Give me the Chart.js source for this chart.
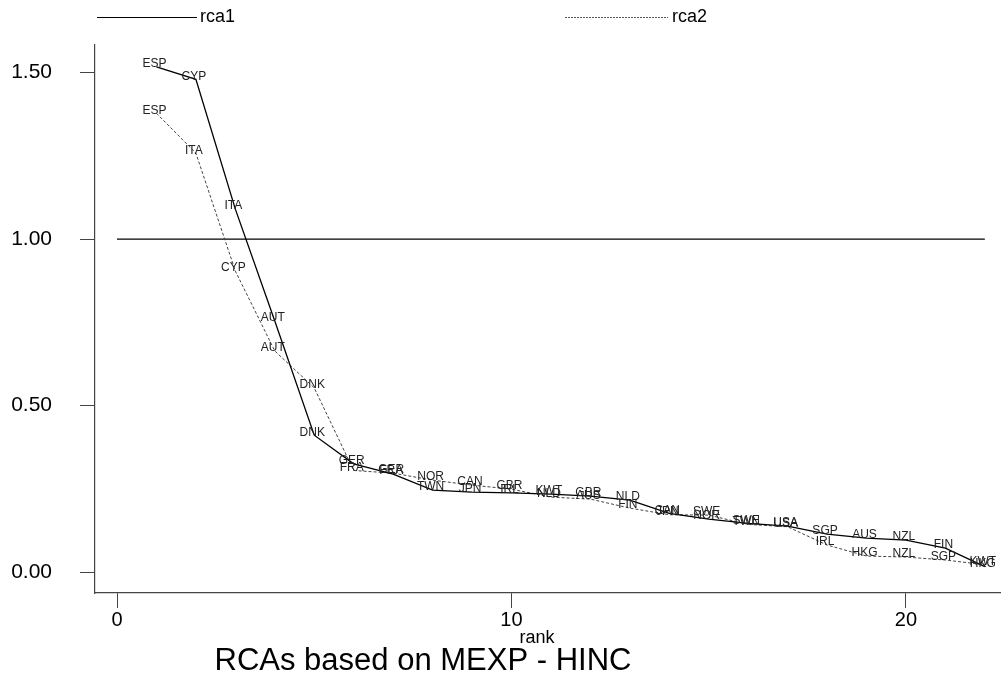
<!DOCTYPE html>
<html lang="en">
<head>
  <meta charset="UTF-8" />
  <title>RCAs based on MEXP - HINC</title>
  <script src="https://cdn.jsdelivr.net/npm/chart.js"></script>
  <style>
    body {
      margin: 0;
      padding: 0;
      background-color: #fff;
    }
  </style>
</head>
<body>
  <canvas id="rcaChart" width="1001" height="685"></canvas>

  <script>
    // ranks 1..22
    const ranks = [1, 2, 3, 4, 5, 6, 7, 8, 9, 10, 11, 12, 13, 14, 15, 16, 17, 18, 19, 20, 21, 22];

    const rca1Labels = ['ESP', 'CYP', 'ITA', 'AUT', 'DNK', 'GER', 'FRA', 'TWN', 'JPN', 'IRL', 'KWT',
      'GBR', 'NLD', 'CAN', 'NOR', 'SWE', 'USA', 'SGP', 'AUS', 'NZL', 'FIN', 'HKG'];
    const rca1Values = [1.517, 1.48, 1.09, 0.754, 0.411, 0.325, 0.294, 0.246, 0.24, 0.238, 0.234,
      0.228, 0.216, 0.176, 0.159, 0.146, 0.138, 0.114, 0.102, 0.096, 0.072, 0.016];

    const rca2Labels = ['ESP', 'ITA', 'CYP', 'AUT', 'DNK', 'FRA', 'GER', 'NOR', 'CAN', 'GBR', 'NLD',
      'AUS', 'FIN', 'JPN', 'SWE', 'TWN', 'USA', 'IRL', 'HKG', 'NZL', 'SGP', 'KWT'];
    const rca2Values = [1.378, 1.258, 0.904, 0.664, 0.553, 0.305, 0.297, 0.276, 0.261, 0.249, 0.225,
      0.219, 0.192, 0.172, 0.171, 0.143, 0.136, 0.081, 0.048, 0.045, 0.036, 0.022];

    const refLineX = [0, 22];
    const refLineY = [1, 1];

    const xTicks = [0, 10, 20];
    const yTicks = [0, 0.5, 1, 1.5];

    const font = "'Liberation Sans', Arial, sans-serif";

    // country code on every point
    const pointLabels = {
      id: 'pointLabels',
      afterDatasetsDraw(chart) {
        const ctx = chart.ctx;
        ctx.save();
        ctx.font = '12px ' + font;
        ctx.fillStyle = '#222';
        ctx.textAlign = 'center';
        ctx.textBaseline = 'middle';
        chart.data.datasets.forEach((ds, i) => {
          if (!ds.codes) return;
          chart.getDatasetMeta(i).data.forEach((pt, j) => {
            ctx.fillText(ds.codes[j], pt.x - 2, pt.y - 3);
          });
        });
        ctx.restore();
      }
    };

    // legend on top, axis title and caption at the bottom
    const frameText = {
      id: 'frameText',
      afterDraw(chart) {
        const ctx = chart.ctx;
        ctx.save();
        ctx.strokeStyle = '#000';
        ctx.lineWidth = 1;
        ctx.beginPath();
        ctx.moveTo(97, 17.5);
        ctx.lineTo(197, 17.5);
        ctx.stroke();
        ctx.setLineDash([2, 1]);
        ctx.strokeStyle = '#555';
        ctx.beginPath();
        ctx.moveTo(565, 17.5);
        ctx.lineTo(668, 17.5);
        ctx.stroke();
        ctx.setLineDash([]);

        ctx.fillStyle = '#000';
        ctx.textBaseline = 'middle';
        ctx.textAlign = 'left';
        ctx.font = '18px ' + font;
        ctx.fillText('rca1', 200, 17);
        ctx.fillText('rca2', 672, 17);

        ctx.textAlign = 'center';
        ctx.fillText('rank', 537, 638);
        ctx.font = '31px ' + font;
        ctx.fillText('RCAs based on MEXP - HINC', 423, 661);
        ctx.restore();
      }
    };

    const ctx = document.getElementById('rcaChart').getContext('2d');
    const rcaChart = new Chart(ctx, {
      type: 'line',
      data: {
        datasets: [{
          label: 'rca1',
          data: ranks.map((r, i) => ({ x: r, y: rca1Values[i] })),
          codes: rca1Labels,
          borderColor: '#000',
          borderWidth: 1.3,
          pointRadius: 0,
          tension: 0
        }, {
          label: 'rca2',
          data: ranks.map((r, i) => ({ x: r, y: rca2Values[i] })),
          codes: rca2Labels,
          borderColor: '#444',
          borderWidth: 1,
          borderDash: [3, 2],
          pointRadius: 0,
          tension: 0
        }, {
          label: 'one',
          data: refLineX.map((x, i) => ({ x: x, y: refLineY[i] })),
          borderColor: '#000',
          borderWidth: 1.2,
          pointRadius: 0
        }]
      },
      options: {
        responsive: false,
        animation: false,
        devicePixelRatio: 1,
        layout: { padding: { top: 45, left: 0, right: 0, bottom: 0 } },
        plugins: {
          legend: { display: false },
          tooltip: { enabled: false }
        },
        scales: {
          x: {
            type: 'linear',
            min: -0.558,
            max: 22.41,
            afterBuildTicks: s => { s.ticks = xTicks.map(v => ({ value: v })); },
            afterFit: s => { s.height = 92; },
            border: { color: '#444', width: 1.2 },
            grid: { drawOnChartArea: false, tickLength: 15, color: '#444' },
            ticks: {
              color: '#000',
              padding: 0,
              maxRotation: 0,
              font: { family: font, size: 20 }
            }
          },
          y: {
            type: 'linear',
            min: -0.063,
            max: 1.583,
            afterBuildTicks: s => { s.ticks = yTicks.map(v => ({ value: v })); },
            afterFit: s => { s.width = 95; },
            border: { color: '#444', width: 1.2 },
            grid: { drawOnChartArea: false, tickLength: 15, color: '#444' },
            ticks: {
              color: '#000',
              padding: 28,
              font: { family: font, size: 21 },
              callback: v => v.toFixed(2)
            }
          }
        }
      },
      plugins: [pointLabels, frameText]
    });
  </script>
</body>
</html>
